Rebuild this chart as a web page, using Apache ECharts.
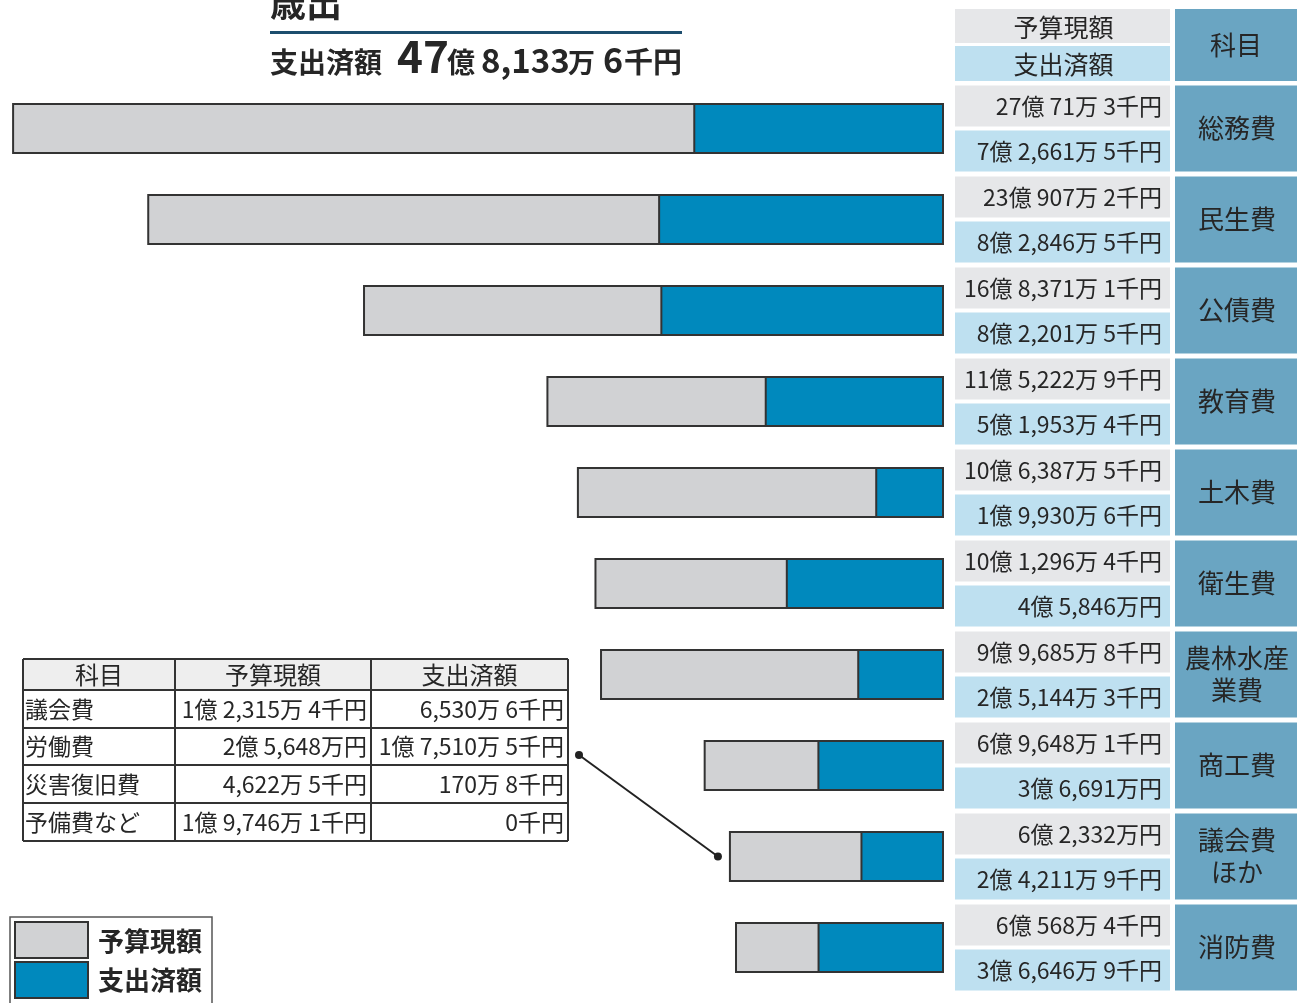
<!DOCTYPE html>
<html>
<head>
<meta charset="utf-8">
<script src="https://cdn.jsdelivr.net/npm/echarts@6/dist/echarts.min.js"></script>
<style>
html,body{margin:0;padding:0;background:#fff;}
#chart{width:1297px;height:1003px;}
</style>
</head>
<body>
<div id="chart"></div>
<script>
// 科目（上から順）
const cats = ['総務費', '民生費', '公債費', '教育費', '土木費', '衛生費', '農林水産業費', '商工費', '議会費ほか', '消防費'];
const catLabels = ['総務費', '民生費', '公債費', '教育費', '土木費', '衛生費', '農林水産\n業費', '商工費', '議会費\nほか', '消防費'];
// 単位: 千円
const budget = [2700713, 2309072, 1683711, 1152229, 1063875, 1012964, 996858, 696481, 623320, 605684];
const spent = [726615, 828465, 822015, 519534, 199306, 458460, 251443, 366910, 242119, 366469];

// 議会費ほか の内訳
const subCats = ['議会費', '労働費', '災害復旧費', '予備費など'];
const subBudget = [123154, 256480, 46225, 197461];
const subSpent = [65306, 175105, 1708, 0];

// 見出しの支出済額合計（部品ごとに文字の大きさが違う）
const titleParts = [['支出済額', 28], ['47', 44], ['億', 28], ['8,133', 33], ['万', 27], ['6', 34], ['千円', 29]];
const titleX = [270, 397, 447, 481, 568, 603, 624];

const FONT = '"Noto Sans CJK JP", "Noto Sans", sans-serif';
const C_GRAY = '#d1d2d4', C_BLUE = '#0089bd';
const C_CELL_GRAY = '#e6e7e9', C_CELL_BLUE = '#bee0f0', C_CELL_CAT = '#6aa5c2';

// 千円 -> "27億 71万 3千円"
function fmt(v) {
    const oku = Math.floor(v / 100000);
    const man = Math.floor((v % 100000) / 10);
    const sen = v % 10;
    let s = '';
    if (oku > 0) s += oku + '億 ';
    if (man > 0) s += man.toLocaleString('en-US') + '万';
    if (sen > 0) s += (man > 0 ? ' ' : '') + sen + '千円';
    else if (man > 0) s += '円';
    else s += '0千円';
    return s;
}

const myChart = echarts.init(document.getElementById('chart'));

const option = {
    animation: false,
    grid: { left: 12, right: 353, top: 83, bottom: 10 },
    xAxis: { type: 'value', inverse: true, min: 0, max: 27.01, show: false },
    yAxis: { type: 'category', inverse: true, data: cats, show: false },
    series: [
        {
            name: '予算現額', type: 'bar', barWidth: 51, barGap: '-100%',
            itemStyle: { color: C_GRAY, borderColor: '#333', borderWidth: 2 },
            data: budget.map(v => v / 100000)
        },
        {
            name: '支出済額', type: 'bar', barWidth: 51, barGap: '-100%',
            itemStyle: { color: C_BLUE, borderColor: '#333', borderWidth: 2 },
            data: spent.map(v => v / 100000)
        }
    ]
};
myChart.setOption(option);

const g = [];
const txt = (text, x, y, size, align, opts) => g.push({
    type: 'text', z: 10,
    style: Object.assign({ text: text, x: x, y: y, font: (opts && opts.bold ? 'bold ' : '') + size + 'px ' + FONT,
        fill: '#262626', align: align, verticalAlign: 'middle' }, opts && opts.style)
});
const rect = (x, y, w, h, fill, stroke, lw) => g.push({
    type: 'rect', z: 5, shape: { x: x, y: y, width: w, height: h },
    style: { fill: fill, stroke: stroke || null, lineWidth: lw || 0 }
});

// タイトル
txt('歳出', 270, 3, 36, 'left', { bold: true });
g.push({ type: 'rect', shape: { x: 270, y: 31, width: 412, height: 3 }, style: { fill: '#1d4e6e' } });
const baseY = 73;
titleParts.forEach((p, i) => {
    txt(p[0], titleX[i], baseY + 0.12 * p[1], p[1], 'left', { bold: true, style: { verticalAlign: 'bottom' } });
});

// 右側の表
const xv = 955, wv = 215, xc = 1175, wc = 122;
rect(xv, 9, wv, 34, C_CELL_GRAY);
rect(xv, 46, wv, 35, C_CELL_BLUE);
rect(xc, 9, wc, 72, C_CELL_CAT);
txt('予算現額', xv + wv / 2 + 1, 27, 25, 'center');
txt('支出済額', xv + wv / 2 + 1, 64, 25, 'center');
txt('科目', xc + wc / 2, 45, 26, 'center');

cats.forEach((c, i) => {
    const yc = myChart.convertToPixel({ yAxisIndex: 0 }, c);
    rect(xv, yc - 43, wv, 41, C_CELL_GRAY);
    rect(xv, yc + 2, wv, 41, C_CELL_BLUE);
    rect(xc, yc - 43, wc, 86, C_CELL_CAT);
    txt(fmt(budget[i]), 1162, yc - 22, 23, 'right');
    txt(fmt(spent[i]), 1162, yc + 23, 23, 'right');
    txt(catLabels[i], xc + wc / 2 + 1, yc, 26, 'center', { style: { lineHeight: 32 } });
});

// 内訳の表
const tx = [23, 175, 371, 568];
const ty = [659, 690, 728, 765, 803, 841];
rect(tx[0], ty[0], tx[3] - tx[0], ty[1] - ty[0], '#eeeeee');
['科目', '予算現額', '支出済額'].forEach((h, j) => txt(h, (tx[j] + tx[j + 1]) / 2, (ty[0] + ty[1]) / 2, 24, 'center'));
subCats.forEach((c, i) => {
    const ym = (ty[i + 1] + ty[i + 2]) / 2;
    txt(c, tx[0] + 2, ym, 23, 'left');
    txt(fmt(subBudget[i]), tx[2] - 4, ym, 23, 'right');
    txt(fmt(subSpent[i]), tx[3] - 4, ym, 23, 'right');
});
ty.forEach(y => g.push({ type: 'line', z: 6, shape: { x1: tx[0], y1: y, x2: tx[3], y2: y }, style: { stroke: '#333', lineWidth: 2 } }));
tx.forEach(x => g.push({ type: 'line', z: 6, shape: { x1: x, y1: ty[0], x2: x, y2: ty[5] }, style: { stroke: '#333', lineWidth: 2 } }));

// 引き出し線
const bx = myChart.convertToPixel({ xAxisIndex: 0 }, budget[8] / 100000);
const by = myChart.convertToPixel({ yAxisIndex: 0 }, cats[8]);
const p1 = [579, 755], p2 = [bx - 11, by];
g.push({ type: 'line', shape: { x1: p1[0], y1: p1[1], x2: p2[0], y2: p2[1] }, style: { stroke: '#222', lineWidth: 2 } });
[p1, p2].forEach(p => g.push({ type: 'circle', shape: { cx: p[0], cy: p[1], r: 4 }, style: { fill: '#222' } }));

// 凡例
rect(10, 917, 202, 100, '#fff', '#555', 1.5);
rect(15, 922, 73, 36, C_GRAY, '#333', 2);
rect(15, 962, 73, 36, C_BLUE, '#333', 2);
txt('予算現額', 98, 941, 26, 'left', { bold: true });
txt('支出済額', 98, 980, 26, 'left', { bold: true });

myChart.setOption({ graphic: g });
</script>
</body>
</html>
